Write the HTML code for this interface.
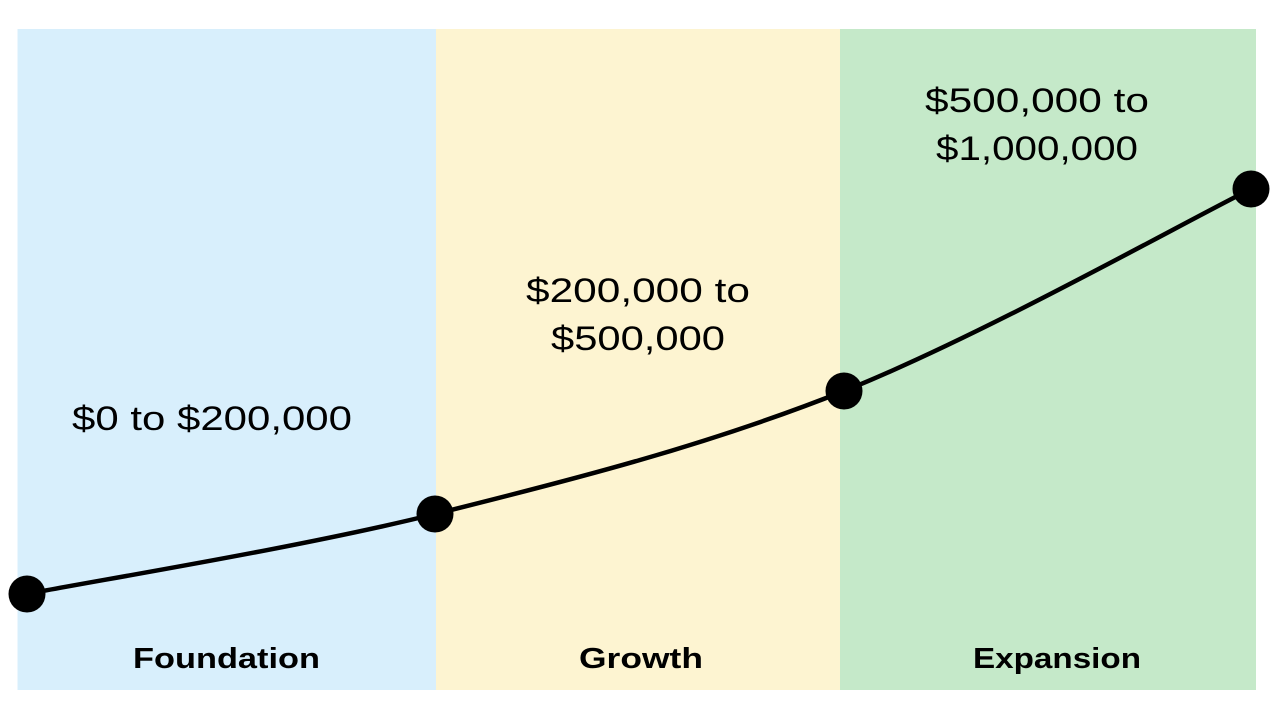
<!DOCTYPE html>
<html><head><meta charset="utf-8"><style>
html,body{margin:0;padding:0;background:#fff;width:1280px;height:720px;overflow:hidden}
svg{display:block}
text{font-family:"Liberation Sans",sans-serif;fill:#000}
</style></head><body>
<svg id="chart" width="1280" height="720" viewBox="0 0 1280 720"></svg>
<script>
const stages = ["Foundation","Growth","Expansion"];
const stageColors = ["#d8effc","#fdf4d1","#c5e9c9"];
const rangeLine1 = ["$0 to $200,000","$200,000 to","$500,000 to"];
const rangeLine2 = ["","$500,000","$1,000,000"];
const pointLevels = [0, 16, 40.6, 81];

const NS="http://www.w3.org/2000/svg";
const svgEl=document.getElementById('chart');
const bounds=[17.5,436,840,1256];
const panelTop=29, panelBottom=690;
const xPt=i=>[27,435,844,1251][i];
const yScale=v=>594 - v*5;
const labelY=[[418],[290,338],[100,148]];
const labelX=[212,638,1037];
const stageX=[226.5,641,1057];
const stageW=[187,124,168];
const rangeW=[[280],[224,174],[224,202]];

stages.forEach((s,i)=>{
  const r=document.createElementNS(NS,'rect');
  r.setAttribute('x',bounds[i]);r.setAttribute('y',panelTop);
  r.setAttribute('width',bounds[i+1]-bounds[i]);r.setAttribute('height',panelBottom-panelTop);
  r.setAttribute('fill',stageColors[i]);
  
  
  svgEl.appendChild(r);
  const t=document.createElementNS(NS,'text');
  t.setAttribute('x',stageX[i]);t.setAttribute('y',668);
  t.setAttribute('text-anchor','middle');t.setAttribute('font-size','29');t.setAttribute('font-weight','bold');
  t.setAttribute('textLength',stageW[i]);t.setAttribute('lengthAdjust','spacingAndGlyphs');
  t.textContent=s;
  
  
  svgEl.appendChild(t);
  const lines=[rangeLine1[i],rangeLine2[i]].filter(x=>x);
  lines.forEach((ln,j)=>{
    const tt=document.createElementNS(NS,'text');
    tt.setAttribute('x',labelX[i]);tt.setAttribute('y',labelY[i][j]+12);
    tt.setAttribute('text-anchor','middle');tt.setAttribute('font-size','34');
    tt.setAttribute('textLength',rangeW[i][j]);tt.setAttribute('lengthAdjust','spacingAndGlyphs');
    tt.textContent=ln;
    
    
    svgEl.appendChild(tt);
  });
});

const pts=pointLevels.map((v,i)=>[xPt(i),yScale(v)]);
let d='M'+pts[0][0]+','+pts[0][1];
for(let i=0;i<pts.length-1;i++){
  const p0=pts[Math.max(0,i-1)],p1=pts[i],p2=pts[i+1],p3=pts[Math.min(pts.length-1,i+2)];
  const c1=[p1[0]+(p2[0]-p0[0])/6,p1[1]+(p2[1]-p0[1])/6];
  const c2=[p2[0]-(p3[0]-p1[0])/6,p2[1]-(p3[1]-p1[1])/6];
  d+=' C'+c1+' '+c2+' '+p2;
}
const path=document.createElementNS(NS,'path');
path.setAttribute('d',d);path.setAttribute('fill','none');path.setAttribute('stroke','#000');path.setAttribute('stroke-width','4.5');


svgEl.appendChild(path);
pts.forEach((p,i)=>{
  const c=document.createElementNS(NS,'circle');
  c.setAttribute('cx',p[0]);c.setAttribute('cy',p[1]);c.setAttribute('r','18.5');c.setAttribute('fill','#000');
  
  
  svgEl.appendChild(c);
});
</script>
</body></html>
